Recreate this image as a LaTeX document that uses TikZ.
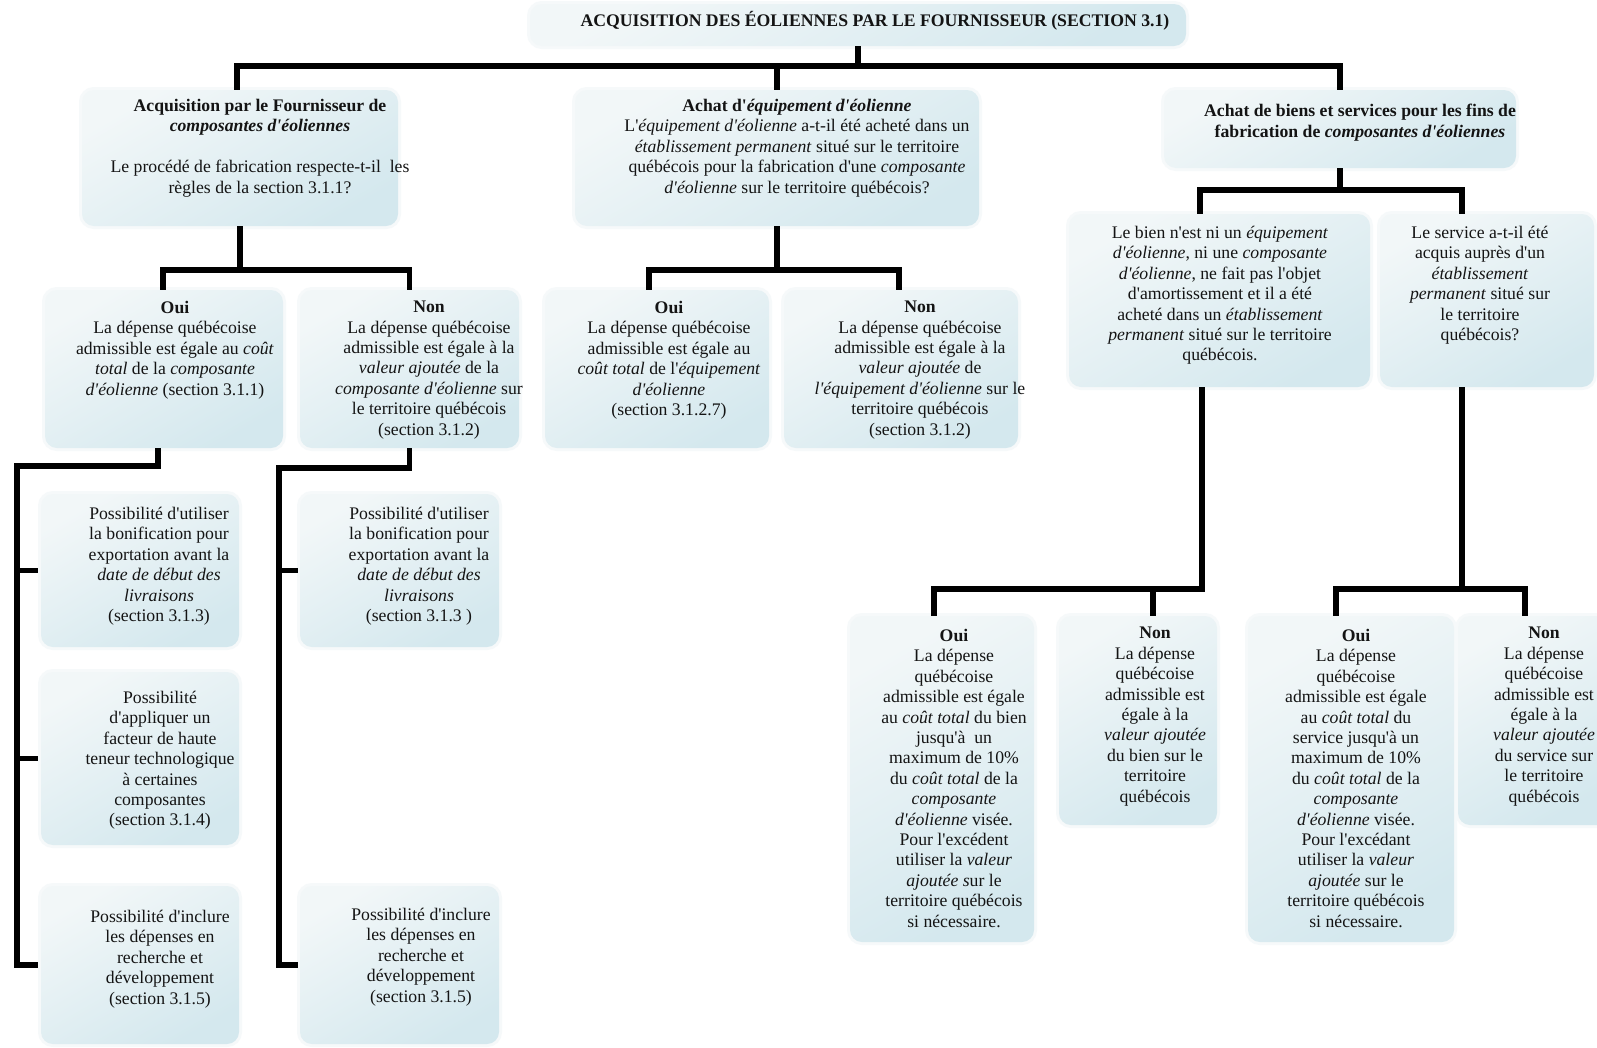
\documentclass[tikz,border=0pt]{standalone}
\usepackage{fontspec}
\setmainfont{Liberation Serif}[Ligatures=TeXOff]
\definecolor{boxtop}{RGB}{242,247,248}
\definecolor{boxbot}{RGB}{212,232,238}
\definecolor{halo}{RGB}{246,249,250}
\tikzset{
  box/.style={rounded corners=12pt, top color=boxtop, bottom color=boxbot, shading angle=30, inner sep=0pt, draw=none,
    preaction={draw=halo, line width=6pt, rounded corners=13pt}},
  txt/.style={align=center, inner sep=0pt, anchor=north, text=black!92, font=\fontsize{17.7}{20.4}\selectfont},
  conn/.style={line width=5.5pt, black, line join=miter}
}
\begin{document}
\begin{tikzpicture}[x=1pt,y=-1pt]
\useasboundingbox (0,0) rectangle (1597,1047);
\fill[white] (0,0) rectangle (1597,1047);
\begin{scope}
\clip (0,0) rectangle (1597,1047);
% boxes
\node[box, minimum width=656pt, minimum height=42pt] (T) at (858,25) {};
\node[box, minimum width=316pt, minimum height=136pt] (A) at (240,158) {};
\node[box, minimum width=404pt, minimum height=136pt] (B) at (777,158) {};
\node[box, minimum width=352pt, minimum height=78pt] (C) at (1340,129) {};
\node[box, minimum width=238pt, minimum height=158pt] (A1) at (164,369) {};
\node[box, minimum width=219pt, minimum height=158pt] (A2) at (409.5,369) {};
\node[box, minimum width=224pt, minimum height=158pt] (B1) at (657,369) {};
\node[box, minimum width=234pt, minimum height=158pt] (B2) at (901,369) {};
\node[box, minimum width=301pt, minimum height=173pt] (C1) at (1219.5,300.5) {};
\node[box, minimum width=214pt, minimum height=173pt] (C2) at (1487,300.5) {};
\node[box, minimum width=184pt, minimum height=326pt] (C1a) at (942,779) {};
\node[box, minimum width=158pt, minimum height=209pt] (C1b) at (1138,720.5) {};
\node[box, minimum width=206pt, minimum height=326pt] (C2a) at (1351,779) {};
\node[box, minimum width=154pt, minimum height=209pt] (C2b) at (1535,720.5) {};
\node[box, minimum width=198pt, minimum height=153pt] (A1a) at (140,570.5) {};
\node[box, minimum width=198pt, minimum height=173pt] (A1b) at (140,758.5) {};
\node[box, minimum width=198pt, minimum height=158pt] (A1c) at (140,965) {};
\node[box, minimum width=199pt, minimum height=153pt] (A2a) at (399.5,570.5) {};
\node[box, minimum width=199pt, minimum height=158pt] (A2c) at (399.5,965) {};
\end{scope}
% texts
\node[txt, anchor=base] (Tt) at (875,26.5) {\textbf{ACQUISITION DES ÉOLIENNES PAR LE FOURNISSEUR (SECTION 3.1)}};
\node[txt] (At) at (260,99) {\textbf{Acquisition par le Fournisseur de}\\ \textbf{\textit{composantes d'éoliennes}}\\[20.4pt] Le procédé de fabrication respecte-t-il~ les\\ règles de la section 3.1.1?};
\node[txt] (Bt) at (797,99) {\textbf{Achat d'\textit{équipement d'éolienne}}\\ L'\textit{équipement d'éolienne} a-t-il été acheté dans un\\ \textit{établissement permanent} situé sur le territoire\\ québécois pour la fabrication d'une \textit{composante}\\ \textit{d'éolienne} sur le territoire québécois?};
\node[txt] (Ct) at (1360,104) {\textbf{Achat de biens et services pour les fins de}\\ \textbf{fabrication de \textit{composantes d'éoliennes}}};
\node[txt] (A1t) at (175,301) {\textbf{Oui}\\ La dépense québécoise\\ admissible est égale au \textit{coût}\\ \textit{total} de la \textit{composante}\\ \textit{d'éolienne} (section 3.1.1)};
\node[txt] (A2t) at (429,301) {\textbf{Non}\\ La dépense québécoise\\ admissible est égale à la\\ \textit{valeur ajoutée} de la\\ \textit{composante d'éolienne} sur\\ le territoire québécois\\ (section 3.1.2)};
\node[txt] (B1t) at (669,301) {\textbf{Oui}\\ La dépense québécoise\\ admissible est égale au\\ \textit{coût total} de l'\textit{équipement}\\ \textit{d'éolienne}\\ (section 3.1.2.7)};
\node[txt] (B2t) at (920,301) {\textbf{Non}\\ La dépense québécoise\\ admissible est égale à la\\ \textit{valeur ajoutée} de\\ \textit{l'équipement d'éolienne} sur le\\ territoire québécois\\ (section 3.1.2)};
\node[txt] (C1t) at (1220,226) {Le bien n'est ni un \textit{équipement}\\ \textit{d'éolienne}, ni une \textit{composante}\\ \textit{d'éolienne}, ne fait pas l'objet\\ d'amortissement et il a été\\ acheté dans un \textit{établissement}\\ \textit{permanent} situé sur le territoire\\ québécois.};
\node[txt] (C2t) at (1480,226) {Le service a-t-il été\\ acquis auprès d'un\\ \textit{établissement}\\ \textit{permanent} situé sur\\ le territoire\\ québécois?};
\node[txt] (C1at) at (954,629) {\textbf{Oui}\\ La dépense\\ québécoise\\ admissible est égale\\ au \textit{coût total} du bien\\ jusqu'à~ un\\ maximum de 10\%\\ du \textit{coût total} de la\\ \textit{composante}\\ \textit{d'éolienne} visée.\\ Pour l'excédent\\ utiliser la \textit{valeur}\\ \textit{ajoutée s}ur le\\ territoire québécois\\ si nécessaire.};
\node[txt] (C1bt) at (1155,627) {\textbf{Non}\\ La dépense\\ québécoise\\ admissible est\\ égale à la\\ \textit{valeur ajoutée}\\ du bien sur le\\ territoire\\ québécois};
\node[txt] (C2at) at (1356,629) {\textbf{Oui}\\ La dépense\\ québécoise\\ admissible est égale\\ au \textit{coût total} du\\ service jusqu'à un\\ maximum de 10\%\\ du \textit{coût total} de la\\ \textit{composante}\\ \textit{d'éolienne} visée.\\ Pour l'excédant\\ utiliser la \textit{valeur}\\ \textit{ajoutée} sur le\\ territoire québécois\\ si nécessaire.};
\node[txt] (C2bt) at (1544,627) {\textbf{Non}\\ La dépense\\ québécoise\\ admissible est\\ égale à la\\ \textit{valeur ajoutée}\\ du service sur\\ le territoire\\ québécois};
\node[txt] (A1at) at (159,507) {Possibilité d'utiliser\\ la bonification pour\\ exportation avant la\\ \textit{date de début des}\\ \textit{livraisons}\\ (section 3.1.3)};
\node[txt] (A1bt) at (160,691) {Possibilité\\ d'appliquer un\\ facteur de haute\\ teneur technologique\\ à certaines\\ composantes\\ (section 3.1.4)};
\node[txt] (A1ct) at (160,910) {Possibilité d'inclure\\ les dépenses en\\ recherche et\\ développement\\ (section 3.1.5)};
\node[txt] (A2at) at (419,507) {Possibilité d'utiliser\\ la bonification pour\\ exportation avant la\\ \textit{date de début des}\\ \textit{livraisons}\\ (section 3.1.3 )};
\node[txt] (A2ct) at (421,908) {Possibilité d'inclure\\ les dépenses en\\ recherche et\\ développement\\ (section 3.1.5)};
% connectors
\draw[conn] (T.south) -- ++(0,20);
\draw[conn] ([xshift=-3pt]A.north) -- ++(0,-24) -| (C.north);
\draw[conn] (B.north) -- ++(0,-24);
\draw[conn] (A.south) -- ++(0,44);
\draw[conn] ([xshift=-1pt]A1.north) -- ++(0,-20) -| (A2.north);
\draw[conn] (B.south) -- ++(0,44);
\draw[conn] ([xshift=-8pt]B1.north) -- ++(0,-20) -| ([xshift=-2pt]B2.north);
\draw[conn] (C.south) -- ++(0,22);
\draw[conn] ([xshift=-19.5pt]C1.north) -- ++(0,-24) -| ([xshift=-25pt]C2.north);
\draw[conn] ([xshift=-8pt]C1a.north) -- ++(0,-27) -| ([xshift=-17.5pt]C1.south);
\draw[conn] ([xshift=15pt]C1b.north) -- ++(0,-27);
\draw[conn] ([xshift=-25pt]C2.south) -- ++(0,202);
\draw[conn] ([xshift=-15pt]C2a.north) -- ++(0,-27) -| ([xshift=-10pt]C2b.north);
\draw[conn] ([xshift=-6pt]A1.south) -- ++(0,18) -| ([xshift=-24pt]A1c.west) -- ([xshift=-3pt]A1c.west);
\draw[conn] ([xshift=-24pt]A1a.west) -- ([xshift=-3pt]A1a.west);
\draw[conn] ([xshift=-24pt]A1b.west) -- ([xshift=-3pt]A1b.west);
\draw[conn] (A2.south) -- ++(0,20) -| ([xshift=-21pt]A2c.west) -- ([xshift=-2pt]A2c.west);
\draw[conn] ([xshift=-21pt]A2a.west) -- ([xshift=-2pt]A2a.west);
\end{tikzpicture}
\end{document}
